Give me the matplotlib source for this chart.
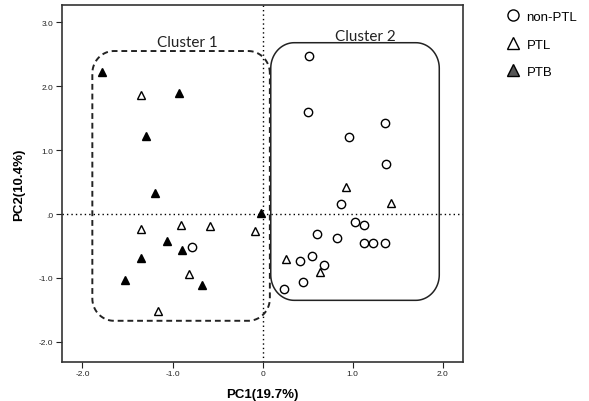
import numpy as np
import matplotlib
matplotlib.use('Agg')
import matplotlib.pyplot as plt
from matplotlib.lines import Line2D
from matplotlib.patches import Polygon

# PCA scores
non_ptl_x = [0.51, 0.50, 1.36, 0.96, 1.37, 0.87, 1.03, 1.13, 0.60, 0.82, 1.12, 1.22,
             1.36, 0.42, 0.55, 0.68, 0.45, 0.24, -0.78]
non_ptl_y = [2.48, 1.59, 1.42, 1.20, 0.78, 0.16, -0.13, -0.17, -0.32, -0.37, -0.45, -0.46,
             -0.45, -0.73, -0.66, -0.79, -1.06, -1.17, -0.51]

ptl_x = [-1.35, -1.35, -0.91, -0.58, -0.09, -0.82, -1.16, 0.93, 1.42, 0.26, 0.64]
ptl_y = [1.86, -0.23, -0.17, -0.18, -0.26, -0.94, -1.52, 0.43, 0.18, -0.70, -0.91]

ptb_x = [-1.78, -0.93, -1.29, -1.20, -0.02, -1.06, -0.89, -1.35, -1.53, -0.67]
ptb_y = [2.22, 1.89, 1.22, 0.33, 0.01, -0.42, -0.57, -0.69, -1.03, -1.11]

xticks = [-2.0, -1.0, 0.0, 1.0, 2.0]
xtick_labels = ['-2.0', '-1.0', '0', '1.0', '2.0']
yticks = [-2.0, -1.0, 0.0, 1.0, 2.0, 3.0]
ytick_labels = ['-2.0', '-1.0', '.0', '1.0', '2.0', '3.0']

plt.rcParams['font.family'] = ['Liberation Sans', 'DejaVu Sans']


def rounded_box(ax, x0, y0, x1, y1, rx, ry, **kw):
    # rectangle with elliptical corners, drawn in data units
    t = np.linspace(0, np.pi / 2, 25)
    pts = []
    corners = [(x1 - rx, y1 - ry, 0.0), (x0 + rx, y1 - ry, np.pi / 2),
               (x0 + rx, y0 + ry, np.pi), (x1 - rx, y0 + ry, 1.5 * np.pi)]
    for cx, cy, a0 in corners:
        a = a0 + t
        pts += list(zip(cx + rx * np.cos(a), cy + ry * np.sin(a)))
    ax.add_patch(Polygon(pts, closed=True, fill=False, joinstyle='round', **kw))


fig = plt.figure(figsize=(5.89, 4.02), dpi=100)
ax = fig.add_axes([61.7 / 589, 1 - 362.7 / 402, 401 / 589, 356.7 / 402])

ax.set_xlim(-2.23, 2.22)
ax.set_ylim(-2.31, 3.27)

# zero reference lines
ax.axhline(0, color='black', lw=1.0, ls=(0, (1, 2.2)), zorder=1)
ax.axvline(0, color='black', lw=1.0, ls=(0, (1, 2.2)), zorder=1)

# cluster outlines
rounded_box(ax, -1.89, -1.67, 0.08, 2.55, 0.24, 0.35,
            edgecolor='#222222', lw=1.4, ls=(0, (3, 2)), zorder=2)
rounded_box(ax, 0.09, -1.35, 1.96, 2.68, 0.26, 0.4,
            edgecolor='#222222', lw=1.1, zorder=2)
ax.text(-0.84, 2.69, 'Cluster 1', fontsize=11, family=['Lato', 'DejaVu Sans'],
        ha='center', va='center', color='#222222')
ax.text(1.14, 2.79, 'Cluster 2', fontsize=11, family=['Lato', 'DejaVu Sans'],
        ha='center', va='center', color='#222222')

ax.plot(non_ptl_x, non_ptl_y, 'o', ms=6, mfc='white', mec='black', mew=1.0, zorder=3)
ax.plot(ptl_x, ptl_y, '^', ms=6, mfc='white', mec='black', mew=1.0, zorder=3)
ax.plot(ptb_x, ptb_y, '^', ms=6, mfc='black', mec='black', mew=1.0, zorder=4)

ax.set_xticks(xticks)
ax.set_xticklabels(xtick_labels)
ax.set_yticks(yticks)
ax.set_yticklabels(ytick_labels)
ax.tick_params(labelsize=6, length=4, width=0.8, colors='#222222', pad=2)
for s in ax.spines.values():
    s.set_linewidth(1.2)
    s.set_color('#333333')

ax.set_xlabel('PC1(19.7%)', fontsize=9.5, fontweight='bold', labelpad=8)
ax.set_ylabel('PC2(10.4%)', fontsize=9.5, fontweight='bold', labelpad=10)

handles = [
    Line2D([], [], ls='none', marker='o', ms=8, mfc='white', mec='black', mew=1.0),
    Line2D([], [], ls='none', marker='^', ms=8, mfc='white', mec='black', mew=1.0),
    Line2D([], [], ls='none', marker='^', ms=8, mfc='#555555', mec='black', mew=1.0),
]
fig.legend(handles, ['non-PTL', 'PTL', 'PTB'], loc='upper left',
           bbox_to_anchor=(0.84, 1.0), frameon=False, fontsize=9.5,
           handlelength=1.0, handletextpad=0.5, labelspacing=1.15)

fig.savefig('out.png', dpi=100)
